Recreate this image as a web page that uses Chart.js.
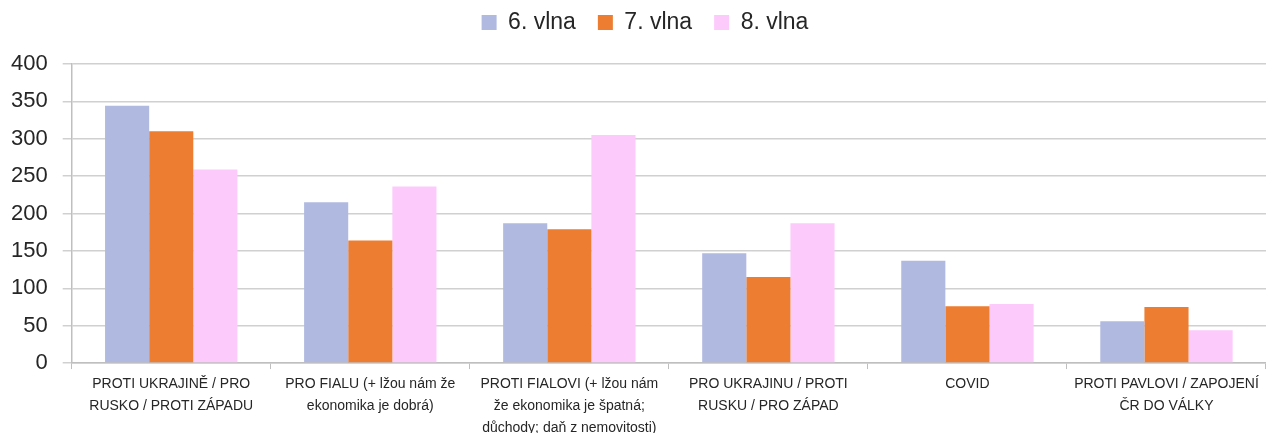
<!DOCTYPE html>
<html>
<head>
<meta charset="utf-8">
<script src="https://cdn.jsdelivr.net/npm/chart.js@4/dist/chart.umd.min.js"></script>
<style>
  html, body { margin: 0; padding: 0; background: #fff; }
  #wrap { width: 1266px; height: 433px; position: relative; }
</style>
</head>
<body>
<div id="wrap"><canvas id="vlnyChart"></canvas></div>
<script>
// kategorie (víceřádkové popisky)
const categories = [
    ["PROTI UKRAJINĚ / PRO", "RUSKO / PROTI ZÁPADU"],
    ["PRO FIALU (+ lžou nám že", "ekonomika je dobrá)"],
    ["PROTI FIALOVI (+ lžou nám", "že ekonomika je špatná;", "důchody; daň z nemovitosti)"],
    ["PRO UKRAJINU / PROTI", "RUSKU / PRO ZÁPAD"],
    ["COVID"],
    ["PROTI PAVLOVI / ZAPOJENÍ", "ČR DO VÁLKY"]
];

const seriesNames = ["6. vlna", "7. vlna", "8. vlna"];
const vlna6 = [344, 215, 187, 147, 137, 56];
const vlna7 = [310, 164, 179, 115, 76, 75];
const vlna8 = [259, 236, 305, 187, 79, 44];

const yTicks = [0, 50, 100, 150, 200, 250, 300, 350, 400];

const colors = ['#b0b9e0', '#ed7d31', '#fccbfc'];

const fontFamily = 'Liberation Sans, Arial, sans-serif';

// extra mezera pod legendou + posun legendy doprava
const legendGap = {
    id: 'legendGap',
    beforeInit(chart) {
        const origFit = chart.legend.fit;
        chart.legend.fit = function () {
            origFit.bind(chart.legend)();
            this.height += 20;
        };
    },
    afterLayout(chart) {
        chart.legend.left += 14;
        chart.legend.right += 14;
    }
};

const ctx = document.getElementById('vlnyChart');

new Chart(ctx, {
    type: 'bar',
    data: {
        labels: categories,
        datasets: [vlna6, vlna7, vlna8].map((d, i) => ({
            label: seriesNames[i],
            data: d,
            backgroundColor: colors[i],
            borderWidth: 0,
            categoryPercentage: 0.665,
            barPercentage: 1.0
        }))
    },
    options: {
        responsive: true,
        maintainAspectRatio: false,
        animation: false,
        layout: { padding: { left: -4, right: 0, top: -11, bottom: -10 } },
        plugins: {
            legend: {
                position: 'top',
                labels: {
                    boxWidth: 15,
                    boxHeight: 15,
                    padding: 22,
                    color: '#262626',
                    font: { family: fontFamily, size: 23 }
                }
            },
            tooltip: { enabled: false }
        },
        scales: {
            x: {
                grid: {
                    display: true,
                    offset: true,
                    drawOnChartArea: false,
                    drawTicks: true,
                    tickLength: 6,
                    color: '#bfbfbf'
                },
                border: { color: '#bfbfbf', width: 1.5 },
                ticks: {
                    color: '#262626',
                    maxRotation: 0,
                    autoSkip: false,
                    padding: 4,
                    font: { family: fontFamily, size: 14, lineHeight: 1.57 }
                }
            },
            y: {
                min: 0,
                max: 400,
                afterBuildTicks: axis => { axis.ticks = yTicks.map(v => ({ value: v })); },
                grid: {
                    color: '#d0d0d0',
                    lineWidth: 1.5,
                    tickLength: 9
                },
                border: { color: '#bfbfbf', width: 1.5 },
                ticks: {
                    color: '#262626',
                    padding: 15,
                    font: { family: fontFamily, size: 22 }
                }
            }
        }
    },
    plugins: [legendGap]
});
</script>
</body>
</html>
